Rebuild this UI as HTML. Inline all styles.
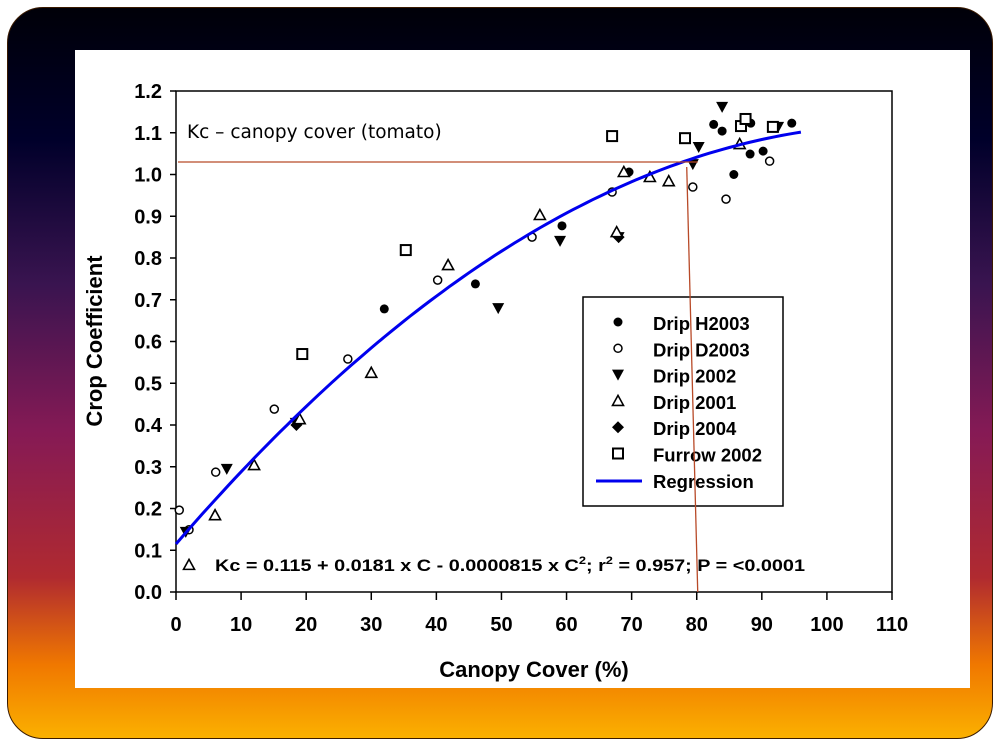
<!DOCTYPE html>
<html><head><meta charset="utf-8"><style>
body{margin:0;width:1000px;height:750px;overflow:hidden;background:#fff}
#bg{position:absolute;left:7px;top:7px;width:986px;height:732px;border-radius:36px;box-sizing:border-box;border:1px solid #3a1a00;background:linear-gradient(#000008 0%,#00002a 18%,#3a1450 38%,#851a55 58%,#b02a30 78%,#f07800 90%,#fbb000 100%)}
#panel{position:absolute;left:75px;top:50px;width:895px;height:638px;background:#fff}
svg{position:absolute;left:0;top:0}
text{font-family:"Liberation Sans",Arial,sans-serif;font-weight:bold;fill:#000}
</style></head><body>
<div id="bg"></div>
<div id="panel"></div>
<svg id="chart" width="1000" height="750"></svg>
<script>
const xTicks=[0,10,20,30,40,50,60,70,80,90,100,110];
const yTicks=[0.0,0.1,0.2,0.3,0.4,0.5,0.6,0.7,0.8,0.9,1.0,1.1,1.2];
const seriesNames=["Drip H2003","Drip D2003","Drip 2002","Drip 2001","Drip 2004","Furrow 2002"];
const dripH2003X=[32,46,59.3,69.6,82.6,83.9,85.7,88.2,88.3,90.2,94.6];
const dripH2003Y=[0.678,0.738,0.877,1.006,1.12,1.104,1.0,1.049,1.123,1.056,1.123];
const dripD2003X=[0.5,2,6.1,15.1,26.4,40.2,54.7,67,79.4,84.5,91.2,87.4];
const dripD2003Y=[0.196,0.149,0.287,0.438,0.558,0.747,0.85,0.958,0.97,0.941,1.032,1.133];
const drip2002X=[1.5,7.8,18.4,49.5,59,68,79.4,80.3,83.9,92.5];
const drip2002Y=[0.144,0.295,0.405,0.68,0.841,0.85,1.025,1.066,1.162,1.114];
const drip2001X=[2,6,12,19,30,41.8,55.9,67.7,68.8,72.8,75.7,86.6];
const drip2001Y=[0.065,0.184,0.304,0.414,0.525,0.783,0.903,0.862,1.006,0.994,0.984,1.073];
const drip2004X=[18.5,68];
const drip2004Y=[0.40,0.85];
const furrowX=[19.4,35.3,67,78.2,86.8,91.7,87.5];
const furrowY=[0.57,0.819,1.092,1.087,1.116,1.114,1.133];
const regA=0.115, regB=0.0181, regC=-0.0000815;
const refY=1.03, refX=80;

const svg=document.getElementById('chart');
const NS='http://www.w3.org/2000/svg';
const X0=176,X1=892,Y0=592,Y1=91;
const sx=v=>X0+(v-0)/(110-0)*(X1-X0);
const sy=v=>Y0-(v-0)/(1.2-0)*(Y0-Y1);
function mk(tag,attrs,parent){const e=document.createElementNS(NS,tag);for(const k in attrs)e.setAttribute(k,attrs[k]);(parent||svg).appendChild(e);return e;}

let fr=mk('rect',{x:X0,y:Y1,width:X1-X0,height:Y0-Y1,fill:'none',stroke:'#000','stroke-width':1.5});


xTicks.forEach(t=>{
 let l=mk('line',{x1:sx(t),x2:sx(t),y1:Y0,y2:Y0+8,stroke:'#000','stroke-width':1.5});
 
 
 let tx=mk('text',{x:sx(t),y:Y0+39,'text-anchor':'middle','font-size':20});
 tx.textContent=t;
 
 
});
yTicks.forEach(t=>{
 let l=mk('line',{x1:X0-6,x2:X0,y1:sy(t),y2:sy(t),stroke:'#000','stroke-width':1.5});
 
 
 let tx=mk('text',{x:X0-14,y:sy(t)+7,'text-anchor':'end','font-size':20});
 tx.textContent=t.toFixed(1);
 
 
});
let xt=mk('text',{x:534,y:677,'text-anchor':'middle','font-size':22});
xt.textContent='Canopy Cover (%)';


let yt=mk('text',{x:102,y:341,'text-anchor':'middle','font-size':22,transform:'rotate(-90 102 341)'});
yt.textContent='Crop Coefficient';


let tt=mk('text',{x:187,y:138,'font-size':18.5,style:'font-weight:normal;font-family:"DejaVu Sans",sans-serif'});
tt.textContent='Kc – canopy cover (tomato)';



function marker(type,cx,cy,g){
 const r=4.5;
 if(type===0)return mk('circle',{cx,cy,r,fill:'#000'},g);
 if(type===1)return mk('circle',{cx,cy,r:4,fill:'#fff',stroke:'#000','stroke-width':1.5},g);
 if(type===2)return mk('polygon',{points:`${cx-6},${cy-5} ${cx+6},${cy-5} ${cx},${cy+6}`,fill:'#000'},g);
 if(type===3)return mk('polygon',{points:`${cx-5.5},${cy+4.5} ${cx+5.5},${cy+4.5} ${cx},${cy-5.5}`,fill:'#fff',stroke:'#000','stroke-width':1.6},g);
 if(type===4)return mk('polygon',{points:`${cx},${cy-6} ${cx+6},${cy} ${cx},${cy+6} ${cx-6},${cy}`,fill:'#000'},g);
 return mk('rect',{x:cx-5,y:cy-5,width:10,height:10,fill:'#fff',stroke:'#000','stroke-width':2},g);
}
const sets=[[dripH2003X,dripH2003Y],[dripD2003X,dripD2003Y],[drip2002X,drip2002Y],[drip2001X,drip2001Y],[drip2004X,drip2004Y],[furrowX,furrowY]];
const order=[4,0,1,2,3,5];
order.forEach(i=>{
 const g=mk('g',{});
 
 
 sets[i][0].forEach((x,j)=>{
  const m=marker(i,sx(x),sy(sets[i][1][j]),g);
  
  
 });
});

let d='';
for(let c=0;c<=96;c+=1){const v=regA+regB*c+regC*c*c;d+=(c?'L':'M')+sx(c).toFixed(1)+','+sy(v).toFixed(1);}
let rl=mk('path',{d,fill:'none',stroke:'#0000ee','stroke-width':3});



const lg=mk('g',{});


mk('rect',{x:583,y:297,width:200,height:209,fill:'#fff',stroke:'#000','stroke-width':1.5},lg);
seriesNames.forEach((n,i)=>{
 const y=323+i*26.3;
 const e=mk('g',{},lg);
 
 
 marker(i,618,y-1,e);
 const t=mk('text',{x:653,y:y+7,'font-size':18.5},e);
 t.textContent=n;
});
const re=mk('g',{},lg);


mk('line',{x1:596,x2:642,y1:481,y2:481,stroke:'#0000ee','stroke-width':3},re);
const rt=mk('text',{x:653,y:488,'font-size':18.5},re);
rt.textContent='Regression';

let hl=mk('line',{x1:X0+2,x2:sx(refX)+1,y1:sy(refY),y2:sy(refY),stroke:'#b84a28','stroke-width':1.3});


let vl=mk('line',{x1:sx(refX)-10,x2:sx(refX)+1,y1:sy(refY)+5,y2:Y0,stroke:'#b84a28','stroke-width':1.3});



let eq=mk('text',{x:215,y:571,'font-size':17,textLength:590,lengthAdjust:'spacingAndGlyphs'});
eq.innerHTML='Kc = 0.115 + 0.0181 x C - 0.0000815 x C<tspan dy="-7" font-size="11">2</tspan><tspan dy="7">; r</tspan><tspan dy="-7" font-size="11">2</tspan><tspan dy="7"> = 0.957; P = &lt;0.0001</tspan>';


</script>
</body></html>
